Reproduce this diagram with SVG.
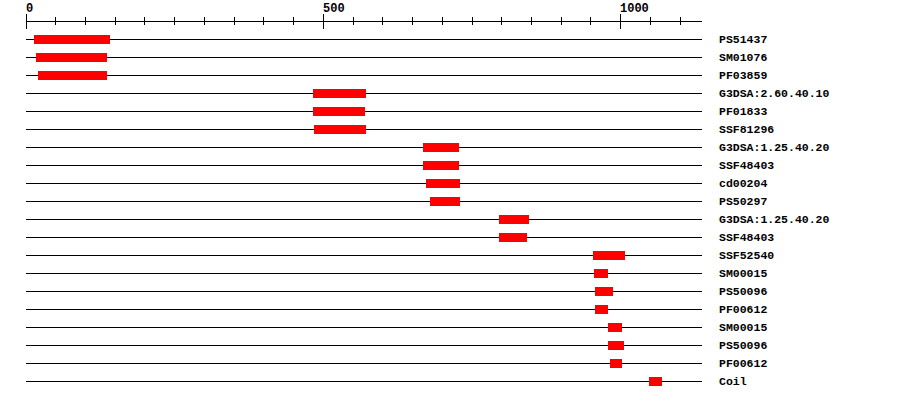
<svg xmlns="http://www.w3.org/2000/svg" width="900" height="400" viewBox="0 0 900 400">
<style>
.ax{stroke:#000;stroke-width:1;shape-rendering:crispEdges;fill:none}
.row{stroke:#000;stroke-width:1;shape-rendering:crispEdges}
.bar{fill:#ff0000;shape-rendering:crispEdges}
.lbl{font-family:"Liberation Mono","DejaVu Sans Mono",monospace;font-weight:bold;font-size:11.5px;fill:#000}
.num{font-family:"Liberation Mono","DejaVu Sans Mono",monospace;font-weight:bold;font-size:12px;fill:#000}
</style>
<rect width="900" height="400" fill="#fff"/>
<g id="axis">
<line class="ax" x1="26" y1="21.5" x2="702" y2="21.5"/>
<path class="ax" d="M26.5 14V29 M323.5 14V29 M620.5 14V29 M55.5 17V25 M85.5 17V25 M115.5 17V25 M144.5 17V25 M174.5 17V25 M204.5 17V25 M234.5 17V25 M263.5 17V25 M293.5 17V25 M353.5 17V25 M382.5 17V25 M412.5 17V25 M442.5 17V25 M472.5 17V25 M501.5 17V25 M531.5 17V25 M561.5 17V25 M590.5 17V25 M650.5 17V25 M680.5 17V25"/>
<text class="num" x="26" y="12">0</text>
<text class="num" x="323" y="12">500</text>
<text class="num" x="620" y="12">1000</text>
</g>
<g id="connectors">
<line class="row" x1="26" y1="39.5" x2="702" y2="39.5"/>
<line class="row" x1="26" y1="57.5" x2="702" y2="57.5"/>
<line class="row" x1="26" y1="75.5" x2="702" y2="75.5"/>
<line class="row" x1="26" y1="93.5" x2="702" y2="93.5"/>
<line class="row" x1="26" y1="111.5" x2="702" y2="111.5"/>
<line class="row" x1="26" y1="129.5" x2="702" y2="129.5"/>
<line class="row" x1="26" y1="147.5" x2="702" y2="147.5"/>
<line class="row" x1="26" y1="165.5" x2="702" y2="165.5"/>
<line class="row" x1="26" y1="183.5" x2="702" y2="183.5"/>
<line class="row" x1="26" y1="201.5" x2="702" y2="201.5"/>
<line class="row" x1="26" y1="219.5" x2="702" y2="219.5"/>
<line class="row" x1="26" y1="237.5" x2="702" y2="237.5"/>
<line class="row" x1="26" y1="255.5" x2="702" y2="255.5"/>
<line class="row" x1="26" y1="273.5" x2="702" y2="273.5"/>
<line class="row" x1="26" y1="291.5" x2="702" y2="291.5"/>
<line class="row" x1="26" y1="309.5" x2="702" y2="309.5"/>
<line class="row" x1="26" y1="327.5" x2="702" y2="327.5"/>
<line class="row" x1="26" y1="345.5" x2="702" y2="345.5"/>
<line class="row" x1="26" y1="363.5" x2="702" y2="363.5"/>
<line class="row" x1="26" y1="381.5" x2="702" y2="381.5"/>
</g>
<g id="r1"><rect class="bar" x="34" y="35" width="76" height="9"/><text class="lbl" x="719" y="42.5">PS51437</text></g>
<g id="r2"><rect class="bar" x="36" y="53" width="71" height="9"/><text class="lbl" x="719" y="60.5">SM01076</text></g>
<g id="r3"><rect class="bar" x="38" y="71" width="69" height="9"/><text class="lbl" x="719" y="78.5">PF03859</text></g>
<g id="r4"><rect class="bar" x="313" y="89" width="53" height="9"/><text class="lbl" x="719" y="96.5">G3DSA:2.60.40.10</text></g>
<g id="r5"><rect class="bar" x="313" y="107" width="52" height="9"/><text class="lbl" x="719" y="114.5">PF01833</text></g>
<g id="r6"><rect class="bar" x="314" y="125" width="52" height="9"/><text class="lbl" x="719" y="132.5">SSF81296</text></g>
<g id="r7"><rect class="bar" x="423" y="143" width="36" height="9"/><text class="lbl" x="719" y="150.5">G3DSA:1.25.40.20</text></g>
<g id="r8"><rect class="bar" x="423" y="161" width="36" height="9"/><text class="lbl" x="719" y="168.5">SSF48403</text></g>
<g id="r9"><rect class="bar" x="426" y="179" width="34" height="9"/><text class="lbl" x="719" y="186.5">cd00204</text></g>
<g id="r10"><rect class="bar" x="430" y="197" width="30" height="9"/><text class="lbl" x="719" y="204.5">PS50297</text></g>
<g id="r11"><rect class="bar" x="499" y="215" width="30" height="9"/><text class="lbl" x="719" y="222.5">G3DSA:1.25.40.20</text></g>
<g id="r12"><rect class="bar" x="499" y="233" width="28" height="9"/><text class="lbl" x="719" y="240.5">SSF48403</text></g>
<g id="r13"><rect class="bar" x="593" y="251" width="32" height="9"/><text class="lbl" x="719" y="258.5">SSF52540</text></g>
<g id="r14"><rect class="bar" x="594" y="269" width="14" height="9"/><text class="lbl" x="719" y="276.5">SM00015</text></g>
<g id="r15"><rect class="bar" x="595" y="287" width="18" height="9"/><text class="lbl" x="719" y="294.5">PS50096</text></g>
<g id="r16"><rect class="bar" x="595" y="305" width="13" height="9"/><text class="lbl" x="719" y="312.5">PF00612</text></g>
<g id="r17"><rect class="bar" x="608" y="323" width="14" height="9"/><text class="lbl" x="719" y="330.5">SM00015</text></g>
<g id="r18"><rect class="bar" x="608" y="341" width="16" height="9"/><text class="lbl" x="719" y="348.5">PS50096</text></g>
<g id="r19"><rect class="bar" x="610" y="359" width="12" height="9"/><text class="lbl" x="719" y="366.5">PF00612</text></g>
<g id="r20"><rect class="bar" x="649" y="377" width="13" height="9"/><text class="lbl" x="719" y="384.5">Coil</text></g>
</svg>
